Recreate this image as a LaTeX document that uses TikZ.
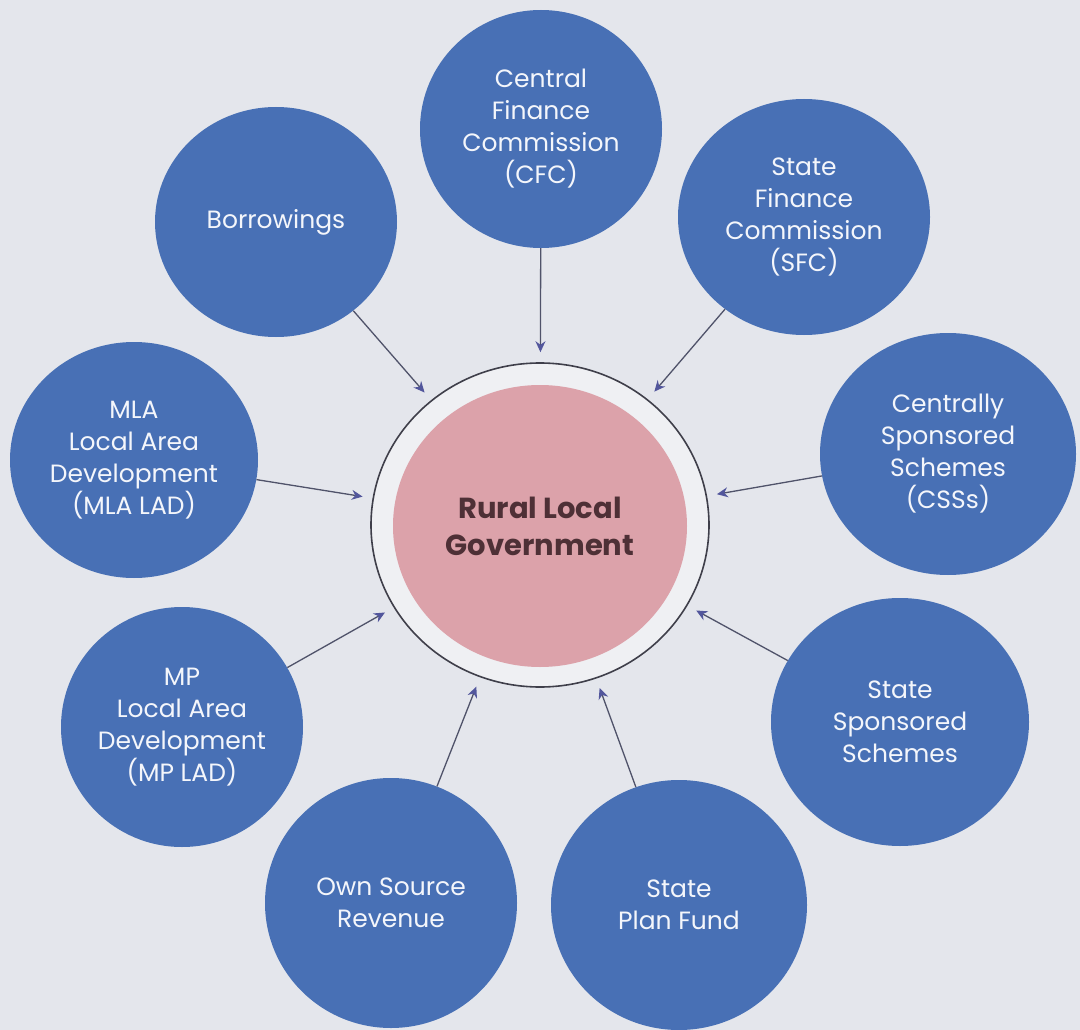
\documentclass[tikz,border=0pt]{standalone}
\usepackage{fontspec}
\setmainfont{Poppins}
\usetikzlibrary{shapes.geometric, arrows.meta, backgrounds}

\definecolor{bgpaper}{HTML}{E4E6EC}
\definecolor{srcblue}{HTML}{4870B5}
\definecolor{hubpink}{HTML}{DCA2AA}
\definecolor{ringfill}{HTML}{EFF0F3}
\definecolor{ringline}{HTML}{3F3F4A}
\definecolor{arrowline}{HTML}{50536A}
\definecolor{arrowhead}{HTML}{52569C}
\definecolor{hubtext}{HTML}{4E3036}

\begin{document}
\begin{tikzpicture}[x=1pt, y=-1pt,
    source/.style={ellipse, fill=srcblue, text=white!94!srcblue, align=center, inner sep=0pt,
        font=\fontsize{25}{32}\selectfont},
    hub/.style={ellipse, fill=hubpink, text=hubtext, align=center, inner sep=0pt,
        font=\bfseries\fontsize{29}{37}\selectfont},
    ring/.style={ellipse, draw=ringline, line width=1.6pt, fill=ringfill, inner sep=0pt},
    arrow/.style={draw=arrowline, line width=1.3pt, shorten >=10pt,
        -{Stealth[length=11pt, width=10pt, color=arrowhead]}},
]

\useasboundingbox (0,0) rectangle (1080,1030);
\fill[bgpaper] (0,0) rectangle (1080,1030);

% centre
\node[ring, minimum width=338pt, minimum height=324pt] (ring) at (540,525) {};
\node[hub, minimum width=294pt, minimum height=282pt] (rlg) at (540,526) {Rural Local\\Government};

% funding sources
\node[source, minimum width=242pt, minimum height=238pt] (cfc) at (541,129)
    {Central\\Finance\\Commission\\(CFC)};
\node[source, minimum width=252pt, minimum height=236pt] (sfc) at (804,217)
    {State\\Finance\\Commission\\(SFC)};
\node[source, minimum width=256pt, minimum height=242pt] (css) at (948,454)
    {Centrally\\Sponsored\\Schemes\\(CSSs)};
\node[source, minimum width=258pt, minimum height=248pt] (sss) at (900,722)
    {State\\Sponsored\\Schemes};
\node[source, minimum width=256pt, minimum height=250pt] (spf) at (679,905)
    {State\\Plan Fund};
\node[source, minimum width=252pt, minimum height=250pt] (osr) at (391,903)
    {Own Source\\Revenue};
\node[source, minimum width=242pt, minimum height=240pt] (mplad) at (182,727)
    {MP\\Local Area\\Development\\(MP LAD)};
\node[source, minimum width=248pt, minimum height=236pt] (mlalad) at (134,460)
    {MLA\\Local Area\\Development\\(MLA LAD)};
\node[source, minimum width=242pt, minimum height=230pt] (borrow) at (276,222)
    {Borrowings};

\foreach \src in {cfc, sfc, css, sss, spf, osr, mplad, mlalad, borrow}
    \draw[arrow] (\src) -- (ring);

\end{tikzpicture}
\end{document}
